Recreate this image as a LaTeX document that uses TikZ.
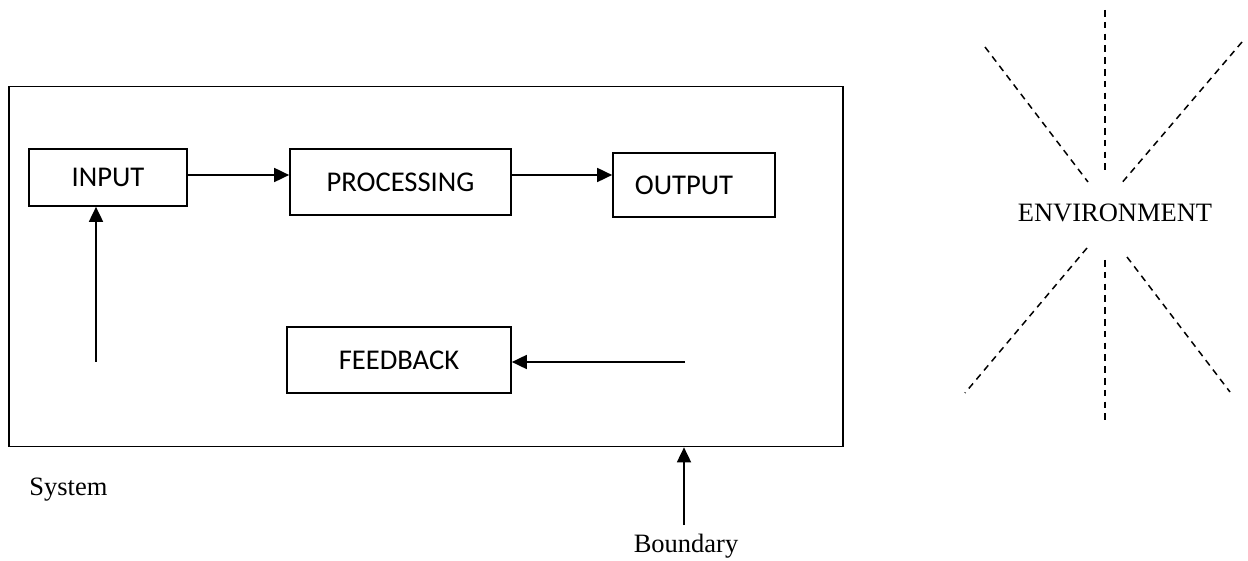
\documentclass[tikz,border=0pt]{standalone}
\usepackage{fontspec}
\setmainfont{Liberation Serif}
\newfontfamily\boxfont{Carlito}
\usetikzlibrary{arrows.meta}

\tikzset{
  stage/.style={draw, line width=0.85pt, inner sep=0pt, font=\boxfont\fontsize{14.3}{16}\selectfont},
  arr/.style={line width=0.9pt, -{Triangle[length=7.5pt,width=7pt]}},
  caption/.style={inner sep=0pt, font=\fontsize{13.25}{16}\selectfont},
  ray/.style={line width=0.75pt, dash pattern=on 3.3pt off 2.6pt}
}

\begin{document}
\begin{tikzpicture}[x=0.5pt, y=-0.5pt]
  \useasboundingbox (0,0) rectangle (1248,561);

  % system boundary
  \node[draw, line width=0.85pt, minimum width=417pt, minimum height=180pt, inner sep=0pt] (sys) at (426,266.5) {};

  % stages of the system
  \node[stage, minimum width=79pt, minimum height=28.5pt] (input) at (108,177.5) {INPUT};
  \node[stage, minimum width=110.5pt, minimum height=33pt] (proc) at (400.5,182) {PROCESSING};
  \node[stage, minimum width=81pt, minimum height=32pt] (out) at (694,185) {OUTPUT\hspace*{10pt}};
  \node[stage, minimum width=112pt, minimum height=33pt] (fb) at (399,360) {FEEDBACK};

  % flow between stages
  \draw[arr] ([yshift=1.25pt]input.east) -- ([yshift=1.25pt]input.east -| proc.west);
  \draw[arr] ([yshift=3.5pt]proc.east) -- ([yshift=3.5pt]proc.east -| out.west);
  \coordinate (fbsrc) at (685,362);
  \draw[arr] (fbsrc) -- (fbsrc -| fb.east);
  \coordinate (insrc) at (96,362);
  \draw[arr] (insrc) -- (insrc |- input.south);

  % labels
  \node[caption, anchor=base west] (syslabel) at (29,495) {System};
  \node[caption, anchor=base] (bnd) at (686,552) {Boundary};
  \draw[arr] ([xshift=-1pt,yshift=4pt]bnd.north) -- ([xshift=-1pt]bnd.north |- sys.south);

  % environment with its rays
  \node[caption, anchor=base] (env) at (1115,222) {ENVIRONMENT};
  \draw[ray] (1105,10) -- (1105,172);
  \draw[ray] (1105,260) -- (1105,422);
  \draw[ray] (985,47) -- (1088,182);
  \draw[ray] (1242,42) -- (1120,185);
  \draw[ray] (1087,248) -- (965,393);
  \draw[ray] (1127,257) -- (1230,392);
\end{tikzpicture}
\end{document}
